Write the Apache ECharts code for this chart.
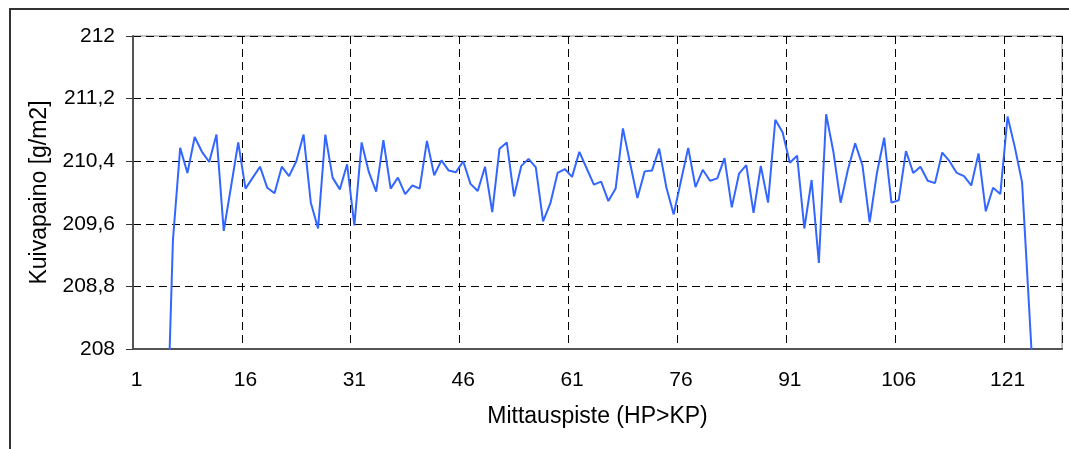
<!DOCTYPE html>
<html lang="fi">
<head>
    <meta charset="UTF-8">
    <title>Kuivapaino</title>
    <script src="https://cdn.jsdelivr.net/npm/echarts@6/dist/echarts.min.js"></script>
    <style>
        html, body { margin: 0; padding: 0; background: #fff; }
        #chart { width: 1069px; height: 449px; }
    </style>
</head>
<body>
    <div id="chart"></div>
    <script>
        // mittauspisteet 1..128
        const categories = [];
        for (let i = 1; i <= 128; i++) categories.push(String(i));

        // kuivapaino g/m2, luettu kuvasta (alku ja loppu menevät alle 208)
        const kuivapaino = [
            null, null, null, null, 206.3, 209.39, 210.57, 210.25, 210.71, 210.52,
            210.39, 210.74, 209.51, 210.07, 210.64, 210.05, 210.19, 210.33, 210.06, 209.99,
            210.33, 210.21, 210.40, 210.74, 209.87, 209.54, 210.74, 210.19, 210.04, 210.36,
            209.58, 210.64, 210.26, 210.01, 210.67, 210.05, 210.19, 209.98, 210.09, 210.05,
            210.66, 210.22, 210.41, 210.28, 210.26, 210.40, 210.11, 210.02, 210.33, 209.75,
            210.56, 210.64, 209.95, 210.34, 210.43, 210.32, 209.63, 209.86, 210.25, 210.30,
            210.20, 210.52, 210.31, 210.10, 210.14, 209.89, 210.05, 210.82, 210.37, 209.93,
            210.27, 210.28, 210.56, 210.06, 209.72, 210.15, 210.57, 210.07, 210.29, 210.15,
            210.18, 210.44, 209.81, 210.24, 210.35, 209.74, 210.34, 209.87, 210.93, 210.77,
            210.38, 210.47, 209.54, 210.16, 209.10, 211.00, 210.52, 209.87, 210.29, 210.63,
            210.35, 209.62, 210.25, 210.70, 209.87, 209.90, 210.53, 210.25, 210.33, 210.15,
            210.12, 210.51, 210.40, 210.25, 210.21, 210.09, 210.50, 209.76, 210.06, 209.98,
            210.97, 210.58, 210.13, 208.48, 206.8, null, null, null
        ];

        const yMin = 208, yMax = 212, yStep = 0.8;
        const fontFam = '"Liberation Sans", Arial, sans-serif';

        const chart = echarts.init(document.getElementById('chart'), null, { renderer: 'canvas' });
        chart.setOption({
            animation: false,
            textStyle: { fontFamily: fontFam },
            graphic: [{
                type: 'rect',
                shape: { x: 10, y: 9, width: 1100, height: 500 },
                style: { fill: 'none', stroke: '#333', lineWidth: 2 },
                silent: true
            }],
            grid: {
                left: 133, right: 7, top: 36, bottom: 100,
                show: true, borderColor: '#888', borderWidth: 1,
                containLabel: false
            },
            xAxis: {
                type: 'category',
                data: categories,
                boundaryGap: true,
                name: 'Mittauspiste (HP>KP)',
                nameLocation: 'middle',
                nameGap: 56,
                nameTextStyle: { fontSize: 23, color: '#000', fontFamily: fontFam },
                axisLine: { lineStyle: { color: '#555', width: 2 } },
                axisTick: { interval: 14, length: 6, lineStyle: { color: '#333' } },
                axisLabel: { interval: 14, margin: 21, fontSize: 21, color: '#000', fontFamily: fontFam },
                splitLine: { show: true, interval: 14, lineStyle: { color: '#000', type: [8, 5], width: 1 } }
            },
            yAxis: {
                type: 'value',
                min: yMin, max: yMax, interval: yStep,
                name: 'Kuivapaino [g/m2]',
                nameLocation: 'middle',
                nameGap: 77,
                nameTextStyle: { fontSize: 23, color: '#000', fontFamily: fontFam },
                axisLine: { show: true, lineStyle: { color: '#555', width: 2 } },
                axisTick: { show: true, length: 7, lineStyle: { color: '#333' } },
                axisLabel: {
                    margin: 18, fontSize: 21, color: '#000', fontFamily: fontFam,
                    formatter: v => String(Math.round(v * 10) / 10).replace('.', ',')
                },
                splitLine: { show: true, lineStyle: { color: '#000', type: [8, 5], width: 1 } }
            },
            series: [{
                type: 'line',
                data: kuivapaino,
                showSymbol: false,
                clip: true,
                connectNulls: false,
                lineStyle: { color: '#3366ff', width: 2 },
                itemStyle: { color: '#3366ff' }
            }]
        });
    </script>
</body>
</html>
